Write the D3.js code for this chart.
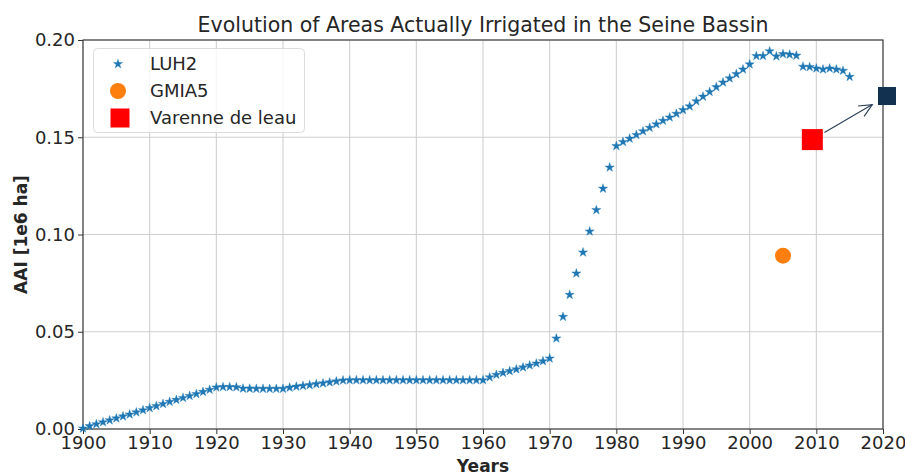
<!DOCTYPE html>
<html>
<head>
<meta charset="utf-8">
<script src="https://cdn.jsdelivr.net/npm/d3@7"></script>
<style>
  body { margin: 0; background: #fff; }
  svg { display: block; font-family: "DejaVu Sans", sans-serif; }
</style>
</head>
<body>
<svg id="chart" width="905" height="474"></svg>
<script>
// ---------------- data ----------------
const title = "Evolution of Areas Actually Irrigated in the Seine Bassin";
const xLabel = "Years";
const yLabel = "AAI [1e6 ha]";
const xTicks = [1900, 1910, 1920, 1930, 1940, 1950, 1960, 1970, 1980, 1990, 2000, 2010, 2020];
const yTicks = [0.00, 0.05, 0.10, 0.15, 0.20];

const luhYears = d3.range(1900, 2016);
const luhValues = [
  0.0003, 0.0015, 0.0025, 0.0035, 0.0045, 0.0055, 0.0065, 0.0075, 0.0086, 0.0097,
  0.0108, 0.0118, 0.0129, 0.0140, 0.0150, 0.0160, 0.0170, 0.0180, 0.0191, 0.0202,
  0.0214, 0.0216, 0.0216, 0.0215, 0.0208, 0.0208, 0.0207, 0.0207, 0.0207, 0.0207,
  0.0207, 0.0213, 0.0218, 0.0222, 0.0226, 0.0231, 0.0235, 0.0240, 0.0245, 0.0250,
  0.0251, 0.0251, 0.0251, 0.0251, 0.0251, 0.0251, 0.0251, 0.0251, 0.0251, 0.0251,
  0.0251, 0.0251, 0.0251, 0.0251, 0.0251, 0.0251, 0.0251, 0.0251, 0.0251, 0.0251,
  0.0251, 0.0266, 0.0279, 0.0289, 0.0298, 0.0307, 0.0317, 0.0327, 0.0337, 0.0349,
  0.0363, 0.0466, 0.0577, 0.0690, 0.0800, 0.0908, 0.1016, 0.1126, 0.1236, 0.1345,
  0.1455, 0.1476, 0.1493, 0.1512, 0.1531, 0.1549, 0.1567, 0.1585, 0.1602, 0.1621,
  0.1640, 0.1659, 0.1685, 0.1709, 0.1733, 0.1758, 0.1782, 0.1803, 0.1825, 0.1849,
  0.1875, 0.1918, 0.1918, 0.1942, 0.1916, 0.1928, 0.1925, 0.1920, 0.1863, 0.1861,
  0.1854, 0.1849, 0.1854, 0.1849, 0.1842, 0.1811
];
const gmiaPoint = [2005, 0.0891];
const varennePoint = [2009.4, 0.1488];
const projectedPoint = [2020.6, 0.1712];
const legendLabels = ["LUH2", "GMIA5", "Varenne de leau"];

// ---------------- layout ----------------
const svg = d3.select("#chart");
const L = 83, R = 883, T = 40, B = 429;
const x = d3.scaleLinear().domain([1900, 2020]).range([L, R]);
const y = d3.scaleLinear().domain([0, 0.2]).range([B, T]);
const tickFs = 18, titleFs = 20.5, labelFs = 17, legendFs = 18;
const axisColor = "#333";

// grid
const grid = svg.append("g");
grid.selectAll(".gx").data(xTicks).join("line")
  .attr("x1", d => x(d)).attr("x2", d => x(d)).attr("y1", T).attr("y2", B)
  .attr("stroke", "#cfcfcf").attr("stroke-width", 1.1);
grid.selectAll(".gy").data(yTicks).join("line")
  .attr("x1", L).attr("x2", R).attr("y1", d => y(d)).attr("y2", d => y(d))
  .attr("stroke", "#cfcfcf").attr("stroke-width", 1.1);

// axes
const xAxis = svg.append("g").attr("transform", `translate(0,${B})`)
  .call(d3.axisBottom(x).tickValues(xTicks).tickFormat(d3.format("d")).tickSizeOuter(0).tickSize(5).tickPadding(2));
const yAxis = svg.append("g").attr("transform", `translate(${L},0)`)
  .call(d3.axisLeft(y).tickValues(yTicks).tickFormat(d3.format(".2f")).tickSizeOuter(0).tickSize(5).tickPadding(3));
[xAxis, yAxis].forEach(a => {
  a.select(".domain").remove();
  a.selectAll("line").attr("stroke", axisColor).attr("stroke-width", 1);
  a.selectAll("text").attr("fill", "#262626").style("font-size", tickFs + "px")
    .style("font-family", "DejaVu Sans, sans-serif");
});
// frame
svg.append("rect").attr("x", L).attr("y", T).attr("width", R - L).attr("height", B - T)
  .attr("fill", "none").attr("stroke", axisColor).attr("stroke-width", 1.1);

// LUH2 stars
const star = d3.symbol().type(d3.symbolStar).size(26);
svg.append("g").selectAll("path").data(luhYears.map((yr, i) => [yr, luhValues[i]])).join("path")
  .attr("d", star)
  .attr("transform", d => `translate(${x(d[0])},${y(d[1])})`)
  .attr("fill", "#1f77b4").attr("stroke", "#1f77b4").attr("stroke-width", 0.4);

// GMIA5 circle
svg.append("circle").attr("cx", x(gmiaPoint[0])).attr("cy", y(gmiaPoint[1])).attr("r", 8)
  .attr("fill", "#ff7f0e");

// Varenne square
const sq = 21;
svg.append("rect").attr("x", x(varennePoint[0]) - sq / 2).attr("y", y(varennePoint[1]) - sq / 2)
  .attr("width", sq).attr("height", sq).attr("fill", "#ff0000");

// projected square
const sq2 = 18;
svg.append("rect").attr("x", x(projectedPoint[0]) - sq2 / 2).attr("y", y(projectedPoint[1]) - sq2 / 2)
  .attr("width", sq2).attr("height", sq2).attr("fill", "#12304f");

// arrow
{
  const x0 = x(varennePoint[0]), y0 = y(varennePoint[1]);
  const x1 = x(projectedPoint[0]), y1 = y(projectedPoint[1]);
  const dx = x1 - x0, dy = y1 - y0, len = Math.hypot(dx, dy);
  const ux = dx / len, uy = dy / len;
  const sx = x0 + ux * 14, sy = y0 + uy * 14;
  const ex = x1 - ux * 17, ey = y1 - uy * 17;
  const hl = 13, hw = 6;
  const bx = ex - ux * hl, by = ey - uy * hl;
  const px = -uy, py = ux;
  const g = svg.append("g").attr("stroke", "#2a3f5a").attr("stroke-width", 1.1).attr("fill", "none");
  g.append("line").attr("x1", sx).attr("y1", sy).attr("x2", ex).attr("y2", ey);
  g.append("path").attr("d", `M${bx + px * hw},${by + py * hw}L${ex},${ey}L${bx - px * hw},${by - py * hw}`);
}

// title and labels
svg.append("text").attr("x", (L + R) / 2).attr("y", 32).attr("text-anchor", "middle")
  .style("font-size", titleFs + "px").attr("fill", "#262626").text(title);
svg.append("text").attr("x", (L + R) / 2).attr("y", 472).attr("text-anchor", "middle")
  .style("font-size", labelFs + "px").style("font-weight", "bold").attr("fill", "#262626").text(xLabel);
svg.append("text").attr("transform", `translate(27,${(T + B) / 2}) rotate(-90)`).attr("text-anchor", "middle")
  .style("font-size", labelFs + "px").style("font-weight", "bold").attr("fill", "#262626").text(yLabel);

// legend
const lg = svg.append("g");
lg.append("rect").attr("x", 93.5).attr("y", 48.5).attr("width", 211).attr("height", 84).attr("rx", 4)
  .attr("fill", "#fff").attr("fill-opacity", 0.8).attr("stroke", "#dcdcdc");
const ly = [64, 91, 118];
lg.append("path").attr("d", star).attr("transform", `translate(118,${ly[0]})`)
  .attr("fill", "#1f77b4").attr("stroke", "#1f77b4").attr("stroke-width", 0.4);
lg.append("circle").attr("cx", 118).attr("cy", ly[1]).attr("r", 8).attr("fill", "#ff7f0e");
lg.append("rect").attr("x", 110.5).attr("y", ly[2] - 9.5).attr("width", 19).attr("height", 19).attr("fill", "#ff0000");
lg.selectAll(".lt").data(legendLabels).join("text")
  .attr("x", 150).attr("y", (d, i) => ly[i]).attr("dy", "0.35em")
  .style("font-size", legendFs + "px").attr("fill", "#262626").text(d => d);
</script>
</body>
</html>
